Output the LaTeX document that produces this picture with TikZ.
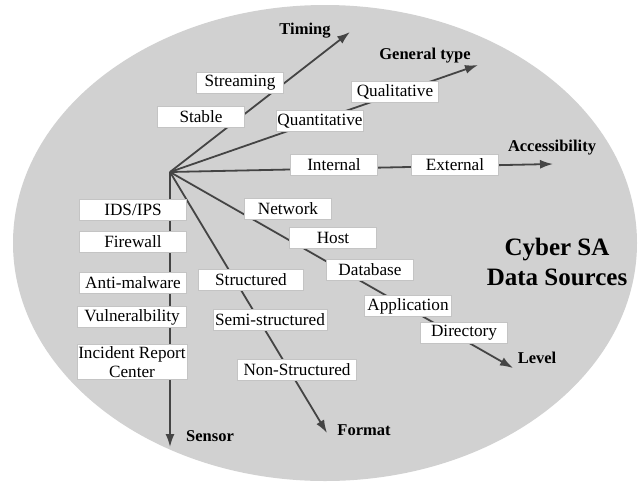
\documentclass[tikz,border=0pt]{standalone}
\usepackage{fontspec}
\setmainfont{Liberation Serif}
\usetikzlibrary{arrows.meta}
\tikzset{>={Latex[width=9pt,length=13pt]}}
\definecolor{ellgray}{RGB}{209,209,209}
\definecolor{raygray}{RGB}{68,68,68}
\definecolor{boxline}{RGB}{196,196,196}
\tikzset{
  item/.style={draw=boxline, fill=white, minimum height=21pt, minimum width=87pt,
    inner xsep=1pt, inner ysep=2pt, font=\fontsize{17.2}{19}\selectfont},
  sensoritem/.style={item, minimum width=107pt},
  ray/.style={draw=raygray, line width=1.8pt, ->},
  axislabel/.style={font=\fontsize{16.5}{18}\selectfont\bfseries}
}

\begin{document}
\begin{tikzpicture}[x=1pt,y=-1pt]
\useasboundingbox (0,0) rectangle (638,483);
\fill[ellgray] (325,243) ellipse [x radius=312pt, y radius=238pt];

% rays from the hub
\coordinate (hub) at (170,172);
\coordinate (timing) at (350,32);
\coordinate (gentype) at (478,65);
\coordinate (access) at (553,164);
\coordinate (level) at (513,368);
\coordinate (format) at (327,433);
\coordinate (sensor) at (170,447);
\draw[ray] (hub) -- (timing);
\draw[ray] (hub) -- (gentype);
\draw[ray] (hub) -- (access);
\draw[ray] (hub) -- (level);
\draw[ray] (hub) -- (format);
\draw[ray] (hub) -- (sensor);

% axis names
\node[axislabel] (timinglbl) at (305,31) {Timing};
\node[axislabel] (gentypelbl) at (425,56) {General type};
\node[axislabel] (accesslbl) at (552,148) {Accessibility};
\node[axislabel] (levellbl) at (537,358) {Level};
\node[axislabel] (formatlbl) at (364,430) {Format};
\node[axislabel] (sensorlbl) at (210,436) {Sensor};

% timing
\node[item] (stable) at (201,117) {Stable};
\node[item] (streaming) at (240,83) {Streaming};
% general type
\node[item] (quant) at (320,121) {Quantitative};
\node[item] (qual) at (395,92) {Qualitative};
% accessibility
\node[item] (internal) at (334,165) {Internal};
\node[item] (external) at (455,165) {External};
% level
\node[item] (network) at (288,209) {Network};
\node[item] (host) at (333,238) {Host};
\node[item] (database) at (370,270) {Database};
\node[item] (application) at (408,306) {Application};
\node[item] (directory) at (464,333) {Directory};
% format
\node[item, minimum width=105pt] (structured) at (251,280) {Structured};
\node[item, minimum width=114pt] (semi) at (270,320) {Semi-structured};
\node[item, minimum width=119pt] (nonstruct) at (297,370) {Non-Structured};
% sensor
\node[sensoritem] (ids) at (133,210) {IDS/IPS};
\node[sensoritem] (firewall) at (133,242) {Firewall};
\node[sensoritem] (antimal) at (133,283) {Anti-malware};
\node[sensoritem, minimum width=109pt] (vuln) at (132,317) {Vulneralbility};
\node[sensoritem, minimum width=109pt, align=center] (incident) at (132,362) {Incident Report\\Center};

\node[font=\fontsize{25}{30}\selectfont\bfseries, align=center] (title) at (557,262) {Cyber SA\\Data Sources};
\end{tikzpicture}
\end{document}
